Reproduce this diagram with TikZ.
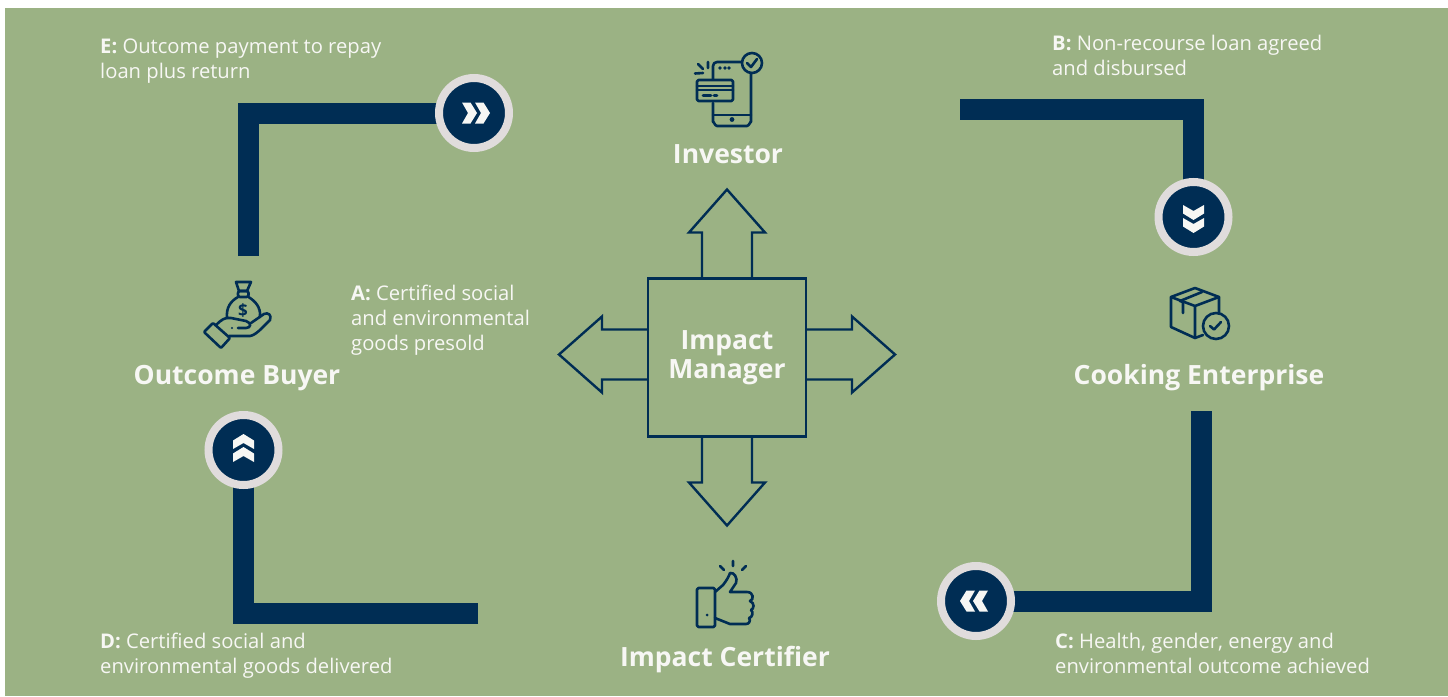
\documentclass[tikz,border=0pt]{standalone}
\usepackage{fontspec}
\setmainfont{Open Sans}
\usetikzlibrary{backgrounds}
\definecolor{sage}{HTML}{9BB284}
\definecolor{navy}{HTML}{002D54}
\definecolor{ring}{HTML}{E0DCDC}
\definecolor{paper}{HTML}{F7F7F4}
\tikzset{flow/.style={draw=navy, line width=21pt}}
\tikzset{badge/.style={circle, draw=ring, fill=navy, line width=8pt, minimum size=70pt, inner sep=0pt}}
\tikzset{chevron/.style={fill=paper, draw=none}}
\tikzset{outline/.style={draw=navy, line width=2.4pt, line join=miter}}
\tikzset{icon/.style={draw=navy, line width=2.6pt, line cap=round, line join=round}}
\tikzset{actor/.style={text=paper, font=\fontsize{26.5}{28}\selectfont\bfseries, anchor=base, align=center, inner sep=0pt}}
\tikzset{step label/.style={text=paper, font=\fontsize{20.2}{24.6}\selectfont, anchor=base west, align=left, inner sep=0pt}}

\begin{document}
\begin{tikzpicture}[x=1pt, y=-1pt]
    \useasboundingbox (0, 0) rectangle (1448, 696);

    \node[badge] (payE) at (474, 113) {};
    \node[badge] (payB) at (1193.5, 217) {};
    \node[badge] (payC) at (976, 601) {};
    \node[badge] (payD) at (243.5, 450) {};
    \coordinate (startE) at (248.5, 256);
    \coordinate (startB) at (960, 109);
    \coordinate (startC) at (1201.5, 411);
    \coordinate (startD) at (478, 613);
    \begin{scope}[on background layer]
        \fill[sage] (5, 8) rectangle (1448, 696);
        \draw[flow] (startE) |- (payE.center);
        \draw[flow] (startB) -| (payB.center);
        \draw[flow] (startC) |- (payC.center);
        \draw[flow] (startD) -| (payD.center);
    \end{scope}
    \foreach \badge/\angle in {payE/0, payB/270, payC/180, payD/90} {
        \foreach \offset in {0, 13} {
            \fill[chevron, shift={(\badge.center)}, rotate=\angle, xshift=\offset pt]
                (-12, -10.5) -- (-3.5, -10.5) -- (3, 0) -- (-3.5, 10.5) -- (-12, 10.5) -- (-6, 0) -- cycle;
        }
    }

    \node[draw=navy, line width=2.4pt, minimum size=158pt, inner sep=0pt, text=paper,
        font=\fontsize{26.5}{28.5}\selectfont\bfseries, align=center] (manager) at (727, 357.5) {Impact\\Manager};
    \foreach \angle/\drift in {0/3, 90/0, 180/3, 270/0} {
        \draw[outline, shift={(manager.center)}, yshift=\drift pt, rotate=\angle]
            (80, -25) -- (125, -25) -- (125, -38) -- (168, 0) -- (125, 38) -- (125, 25) -- (80, 25);
    }

    \node[actor] (investor) at (728, 163) {Investor};
    \node[actor] (buyer) at (237, 384) {Outcome Buyer};
    \node[actor] (enterprise) at (1199, 384) {Cooking Enterprise};
    \node[actor] (certifier) at (725, 666) {Impact Certifier};

    \node[step label] (labelA) at (351, 350) {\textbf{A:} Certified social\\and environmental\\goods presold};
    \node[step label] (labelB) at (1052, 75) {\textbf{B:} Non-recourse loan agreed\\and disbursed};
    \node[step label] (labelC) at (1055, 673) {\textbf{C:} Health, gender, energy and\\environmental outcome achieved};
    \node[step label] (labelD) at (100, 673) {\textbf{D:} Certified social and\\environmental goods delivered};
    \node[step label] (labelE) at (100, 78) {\textbf{E:} Outcome payment to repay\\loan plus return};

    % phone
    \draw[icon] (713, 79) -- (713, 66) to[out=90, in=180] (717, 62) -- (742, 62);
    \draw[icon] (751, 73) -- (751, 122) to[out=90, in=0] (747, 126) -- (717, 126) to[out=180, in=90] (713, 122) -- (713, 103);
    \draw[icon] (713, 115) -- (751, 115);
    \draw[icon] (752, 63) circle [radius=10];
    \draw[icon] (747, 63) -- (751, 67) -- (757, 59);
    \draw[icon, rounded corners=1.5pt] (697, 80) rectangle (733, 101);
    \draw[icon] (697, 86) -- (733, 86) (697, 90) -- (733, 90) (703, 95.5) -- (711, 95.5) (714, 95.5) -- (717, 95.5);
    \fill[navy] (732, 119.5) circle [radius=2.4];
    \foreach \dotx in {720, 725, 729} {
        \fill[navy] (\dotx, 68) circle [radius=1.8];
    }
    \draw[icon] (708, 62) -- (708, 68) (698, 64) -- (703, 69) (695, 73.5) -- (703, 73);

    % money bag and hand
    \draw[icon] (236, 282) -- (251, 282) -- (247, 291) -- (239, 291) -- cycle;
    \draw[icon, rounded corners=2pt] (238, 291) rectangle (248.5, 297);
    \draw[icon] (238, 297) .. controls (231, 301) and (226, 307) .. (227, 318);
    \draw[icon] (248.5, 297) .. controls (255, 301) and (261, 307) .. (260, 317);
    \node[text=navy, font=\fontsize{17}{17}\selectfont\bfseries, inner sep=0pt] (dollar) at (243, 310.5) {\$};
    \draw[icon, rounded corners=1pt] (213, 323) -- (230, 338) -- (221, 348) -- (204, 332) -- cycle;
    \draw[icon] (216, 325) .. controls (221, 320) and (225, 317) .. (231, 318) -- (246, 321) .. controls (252, 323) and (251, 328) .. (246, 328) -- (238, 328);
    \draw[icon] (229, 336) -- (250, 336) .. controls (256, 335) and (262, 328) .. (270, 320) .. controls (272, 315) and (268, 312) .. (264, 314) -- (251, 323);
    \fill[navy] (232, 328) circle [radius=1.1];

    % parcel
    \draw[icon] (1203, 335) -- (1195, 338) -- (1171, 327) -- (1171, 297) -- (1195, 288) -- (1219, 297) -- (1219, 313);
    \draw[icon] (1171, 297) -- (1195, 306) -- (1219, 297) (1195, 306) -- (1195, 338);
    \draw[icon] (1202, 292) -- (1180, 301) -- (1183, 302) -- (1183, 313);
    \draw[icon] (1216, 326) circle [radius=13];
    \draw[icon] (1210, 326) -- (1214, 329.5) -- (1221, 322);

    % thumb
    \draw[icon, rounded corners=1.5pt] (697, 588) rectangle (715, 627);
    \fill[navy] (707, 615) circle [radius=1.5];
    \draw[icon] (715, 592) -- (723, 585) .. controls (727, 580) and (729, 576) .. (730, 573) .. controls (734, 572) and (738, 578) .. (736, 583) -- (730, 592) -- (747, 592)
        .. controls (754, 592) and (754, 600) .. (750, 601) .. controls (755, 603) and (754, 609) .. (751, 610) .. controls (754, 612) and (752, 618) .. (749, 618)
        .. controls (751, 621) and (749, 624) .. (746, 624) -- (730, 624) -- (715, 618);
    \draw[icon] (733, 561) -- (733, 566) (720, 566) -- (724, 570) (746, 566) -- (742, 570);
\end{tikzpicture}
\end{document}
